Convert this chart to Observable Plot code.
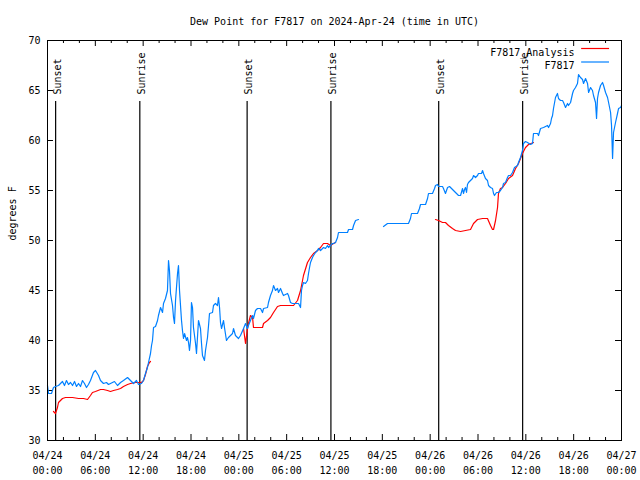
<!DOCTYPE html>
<html><head><meta charset="utf-8">
<script src="https://cdn.jsdelivr.net/npm/d3@7"></script>
<script src="https://cdn.jsdelivr.net/npm/@observablehq/plot@0.6"></script>
<style>body{margin:0;background:#fff}</style>
</head><body><div id="chart"></div>
<script>
const title = "Dew Point for F7817 on 2024-Apr-24 (time in UTC)";
const yLabel = "degrees F";
const seriesNames = ["F7817_Analysis", "F7817"];
const xTickHours = [0,6,12,18,24,30,36,42,48,54,60,66,72];
const xTickLabels = ["04/24\n00:00","04/24\n06:00","04/24\n12:00","04/24\n18:00","04/25\n00:00","04/25\n06:00","04/25\n12:00","04/25\n18:00","04/26\n00:00","04/26\n06:00","04/26\n12:00","04/26\n18:00","04/27\n00:00"];
const xMinorHours = [2,4,8,10,14,16,20,22,26,28,32,34,38,40,44,46,50,52,56,58,62,64,68,70];
const yTicks = [30,35,40,45,50,55,60,65,70];
const sunHours = [1.02, 11.58, 25.04, 35.55, 49.07, 59.6];
const sunLabels = ["Sunset","Sunrise","Sunset","Sunrise","Sunset","Sunrise"];

// observed dew point (hours since 04/24 00:00 UTC, degrees F)
const observedA = [[0.00,35.5],[0.13,34.7],[0.50,34.7],[0.75,35.3],[1.00,35.4],[1.38,35.5],[1.63,35.7],[1.88,35.9],[2.13,35.5],[2.38,36.0],[2.63,35.6],[2.89,35.8],[3.14,35.5],[3.39,35.9],[3.64,35.4],[3.89,35.7],[4.14,35.4],[4.39,36.0],[4.64,35.7],[4.89,35.3],[5.14,35.6],[5.39,36.0],[5.77,36.8],[6.02,37.0],[6.40,36.5],[6.65,36.0],[7.02,35.7],[7.40,35.8],[7.65,35.6],[7.90,35.7],[8.40,35.9],[8.78,35.5],[9.16,35.8],[9.53,36.0],[10.04,36.3],[10.41,36.0],[10.79,35.7],[11.16,36.0],[11.42,35.6],[11.79,35.7],[12.04,36.0],[12.29,36.7],[12.54,37.3],[12.67,37.8],[12.92,38.7],[13.05,39.5],[13.17,40.0],[13.30,41.3],[13.55,41.4],[13.80,42.0],[13.92,42.5],[14.18,43.3],[14.43,42.8],[14.55,43.7],[14.80,44.2],[15.05,45.0],[15.18,48.0],[15.30,47.0],[15.43,44.7],[15.68,43.5],[15.81,42.3],[15.93,41.7],[16.06,44.0],[16.31,46.7],[16.43,47.5],[16.56,45.0],[16.81,42.0],[16.93,41.0],[17.06,40.2],[17.19,40.7],[17.44,40.0],[17.56,40.3],[17.69,39.8],[17.81,39.0],[17.94,40.0],[18.06,43.8],[18.19,43.3],[18.31,41.3],[18.57,39.7],[18.69,38.7],[18.94,42.0],[19.19,41.2],[19.32,39.7],[19.44,38.5],[19.69,38.0],[19.82,39.0],[20.07,40.3],[20.20,41.5],[20.32,42.7],[20.70,42.8],[20.82,43.5],[21.07,43.7],[21.32,43.5],[21.45,44.3],[21.58,43.3],[21.70,41.8],[21.83,41.2],[22.08,42.0],[22.20,41.3],[22.45,40.0],[22.70,40.3],[22.96,40.5],[23.21,40.7],[23.33,41.2],[23.58,40.5],[23.83,40.3],[23.96,40.2],[24.21,40.5],[24.59,41.2],[24.84,41.7],[25.09,41.2],[25.21,41.5],[25.46,42.0],[25.72,42.5],[25.84,42.2],[26.09,43.0],[26.34,43.2],[26.72,43.2],[26.97,42.8],[27.10,43.2],[27.60,43.3],[27.72,43.8],[27.97,44.5],[28.22,45.0],[28.35,45.5],[28.60,45.0],[28.85,45.2],[28.98,44.8],[29.23,45.2],[29.48,44.7],[29.60,44.5],[30.11,44.7],[30.23,44.5],[30.48,43.8],[30.73,43.7],[31.11,43.7],[31.49,43.7],[31.74,43.3],[31.86,45.0],[31.99,45.5],[32.11,45.8],[32.36,45.7],[32.61,46.0],[32.74,46.7],[32.87,47.3],[32.99,47.8],[33.24,48.3],[33.37,48.5],[33.62,48.8],[33.87,49.0],[33.99,49.2],[34.25,49.0],[34.50,49.2],[34.62,49.3],[34.87,49.2],[35.12,49.5],[35.25,49.3],[35.50,49.5],[35.75,49.7],[35.88,49.7],[36.13,49.8],[36.38,50.3],[36.50,50.8],[36.75,50.8],[37.63,50.8],[37.76,51.1],[38.26,51.1],[38.39,51.5],[38.64,52.0],[39.01,52.1]];
const observedB = [[42.15,51.4],[42.65,51.7],[45.28,51.7],[45.53,52.2],[45.66,52.7],[46.41,52.7],[46.66,53.2],[46.79,53.6],[47.42,53.6],[47.67,54.2],[47.79,54.7],[48.29,54.7],[48.55,55.2],[48.67,55.5],[48.92,55.6],[49.05,55.4],[49.55,55.4],[49.67,55.2],[49.92,54.7],[50.18,55.3],[50.43,55.4],[50.68,55.2],[50.93,55.0],[51.18,54.8],[51.56,54.5],[51.81,54.5],[52.06,55.2],[52.18,54.7],[52.31,55.1],[52.43,55.3],[52.56,54.8],[52.68,55.6],[52.81,55.8],[53.06,56.0],[53.31,56.2],[53.44,56.5],[53.69,56.3],[53.94,56.5],[54.06,56.7],[54.44,56.7],[54.57,57.0],[54.69,56.7],[54.94,56.2],[55.19,56.0],[55.32,55.5],[55.57,55.3],[55.82,55.2],[55.95,54.7],[56.07,54.5],[56.32,54.8],[56.57,54.8],[56.82,55.0],[57.08,55.3],[57.20,55.7],[57.45,55.8],[57.70,56.3],[57.83,56.5],[58.08,56.5],[58.33,56.8],[58.58,57.3],[58.96,57.5],[59.08,57.8],[59.33,58.3],[59.58,59.0],[59.71,59.7],[59.96,59.9],[60.21,59.8],[60.59,59.6],[60.84,59.7],[60.96,60.7],[61.47,60.7],[61.59,60.5],[61.84,61.2],[62.22,61.3],[62.72,61.5],[62.85,61.3],[63.10,61.7],[63.22,62.2],[63.35,62.5],[63.47,63.2],[63.72,64.3],[63.97,64.7],[64.10,64.2],[64.35,64.0],[64.60,64.0],[64.73,63.8],[64.98,63.3],[65.23,63.7],[65.35,63.5],[65.61,63.8],[65.86,64.7],[65.98,65.0],[66.23,65.3],[66.48,65.7],[66.61,66.6],[66.86,66.3],[67.11,66.1],[67.24,65.7],[67.49,66.2],[67.74,65.7],[67.87,64.8],[68.12,65.3],[68.36,65.0],[68.49,64.5],[68.74,63.8],[68.87,62.2],[68.99,64.2],[69.12,64.8],[69.37,65.5],[69.62,65.8],[69.75,65.5],[70.00,64.8],[70.25,64.3],[70.38,63.8],[70.63,62.8],[70.75,61.5],[70.88,58.2],[71.00,60.8],[71.25,61.8],[71.50,62.7],[71.63,63.2],[71.88,63.3],[72.00,63.5]];

// analysis dew point
const analysisA = [[0.75,32.9],[1.00,32.7],[1.25,33.3],[1.38,33.8],[1.88,34.2],[2.26,34.3],[3.14,34.3],[3.89,34.2],[4.52,34.2],[5.02,34.1],[5.39,34.5],[5.64,34.8],[6.02,34.9],[6.65,35.1],[7.02,35.1],[7.53,35.0],[7.90,34.9],[8.28,35.0],[8.78,35.1],[9.16,35.2],[9.53,35.4],[10.04,35.6],[10.41,35.7],[11.04,35.8],[11.79,35.8],[12.04,36.0],[12.29,36.6],[12.54,37.4],[12.79,37.8],[12.92,37.9]];
const analysisB = [[24.59,41.2],[24.84,39.7],[24.97,40.5],[25.09,41.2],[25.21,41.7],[25.46,42.5],[25.72,42.3],[25.84,41.3],[26.34,41.3],[26.97,41.3],[27.10,41.7],[27.60,42.0],[27.97,42.3],[28.35,42.8],[28.85,43.4],[29.23,43.5],[30.86,43.5],[31.36,44.0],[31.74,45.0],[31.99,46.0],[32.11,46.5],[32.61,47.8],[32.99,48.3],[33.37,48.7],[33.87,49.0],[34.25,49.3],[34.62,49.7],[35.12,49.7],[35.50,49.5],[35.88,49.7],[36.13,49.8]];
const analysisC = [[48.67,52.1],[49.05,52.0],[49.55,51.8],[49.92,51.8],[50.30,51.5],[50.80,51.2],[51.18,51.0],[51.81,50.9],[52.43,51.0],[53.06,51.1],[53.44,51.7],[53.94,52.1],[54.57,52.2],[55.19,52.2],[55.57,51.5],[55.82,51.1],[55.95,51.1],[56.20,52.0],[56.45,53.3],[56.57,54.7],[56.82,55.2],[57.08,55.3],[57.45,55.7],[57.83,56.2],[58.33,56.5],[58.71,57.2],[59.08,57.7],[59.58,58.7],[59.96,59.3],[60.34,59.6],[60.96,59.8]];

const RED = "#ff0000", BLUE = "#0080ff";
const toRows = (arr, seg) => arr.map(([h, v]) => ({h, v, seg}));
const obsRows = [...toRows(observedA, "a"), ...toRows(observedB, "b")];
const anaRows = [...toRows(analysisA, "a"), ...toRows(analysisB, "b"), ...toRows(analysisC, "c")];
const sun = sunHours.map((h, i) => ({h, label: sunLabels[i]}));

const chart = Plot.plot({
  width: 640, height: 480,
  marginLeft: 47, marginRight: 19, marginTop: 40, marginBottom: 40,
  style: {fontFamily: "'DejaVu Sans Mono', monospace", fontSize: "10px", background: "white", color: "black"},
  x: {domain: [0, 72], axis: null},
  y: {domain: [30, 70], axis: null},
  marks: [
    // ticks (inward, mirrored)
    Plot.ruleX(xTickHours, {x: d => d, y1: 30, y2: 30.6, stroke: "black"}),
    Plot.ruleX(xTickHours, {x: d => d, y1: 70, y2: 69.4, stroke: "black"}),
    Plot.ruleX(xMinorHours, {x: d => d, y1: 30, y2: 30.3, stroke: "black"}),
    Plot.ruleX(xMinorHours, {x: d => d, y1: 70, y2: 69.7, stroke: "black"}),
    Plot.ruleY(yTicks, {y: d => d, x1: 0, x2: 0.75, stroke: "black"}),
    Plot.ruleY(yTicks, {y: d => d, x1: 72, x2: 71.25, stroke: "black"}),
    // tick labels
    Plot.text(xTickHours, {x: d => d, text: (d, i) => xTickLabels[i], frameAnchor: "bottom", lineAnchor: "top", dy: 8, lineHeight: 1.5, fill: "black"}),
    Plot.text(yTicks, {y: d => d, text: d => String(d), frameAnchor: "left", textAnchor: "end", dx: -7, fill: "black"}),
    Plot.text([yLabel], {text: d => d, frameAnchor: "left", rotate: -90, dx: -35, fill: "black"}),
    Plot.text([title], {text: d => d, frameAnchor: "top", dy: -23, fill: "black"}),
    // sunrise / sunset
    Plot.ruleX(sun, {x: "h", y1: 30, y2: 63.9, stroke: "black", strokeWidth: 1.2}),
    Plot.text(sun, {x: "h", y: 64.6, text: "label", rotate: -90, textAnchor: "start", dx: 2, fill: "black"}),
    // series
    Plot.line(anaRows, {x: "h", y: "v", z: "seg", stroke: RED, strokeWidth: 1.2, curve: "linear"}),
    Plot.line(obsRows, {x: "h", y: "v", z: "seg", stroke: BLUE, strokeWidth: 1.2, curve: "linear"}),
    // legend
    Plot.text([seriesNames[0]], {text: d => d, frameAnchor: "top-right", textAnchor: "end", dx: -47, dy: 8, fill: "black"}),
    Plot.text([seriesNames[1]], {text: d => d, frameAnchor: "top-right", textAnchor: "end", dx: -47, dy: 21, fill: "black"}),
    Plot.ruleY([69.2], {y: d => d, x1: 67.0, x2: 70.5, stroke: RED, strokeWidth: 1.2}),
    Plot.ruleY([67.85], {y: d => d, x1: 67.0, x2: 70.5, stroke: BLUE, strokeWidth: 1.2}),
    Plot.frame({stroke: "black"})
  ]
});
document.getElementById("chart").appendChild(chart);
</script>
</body></html>
